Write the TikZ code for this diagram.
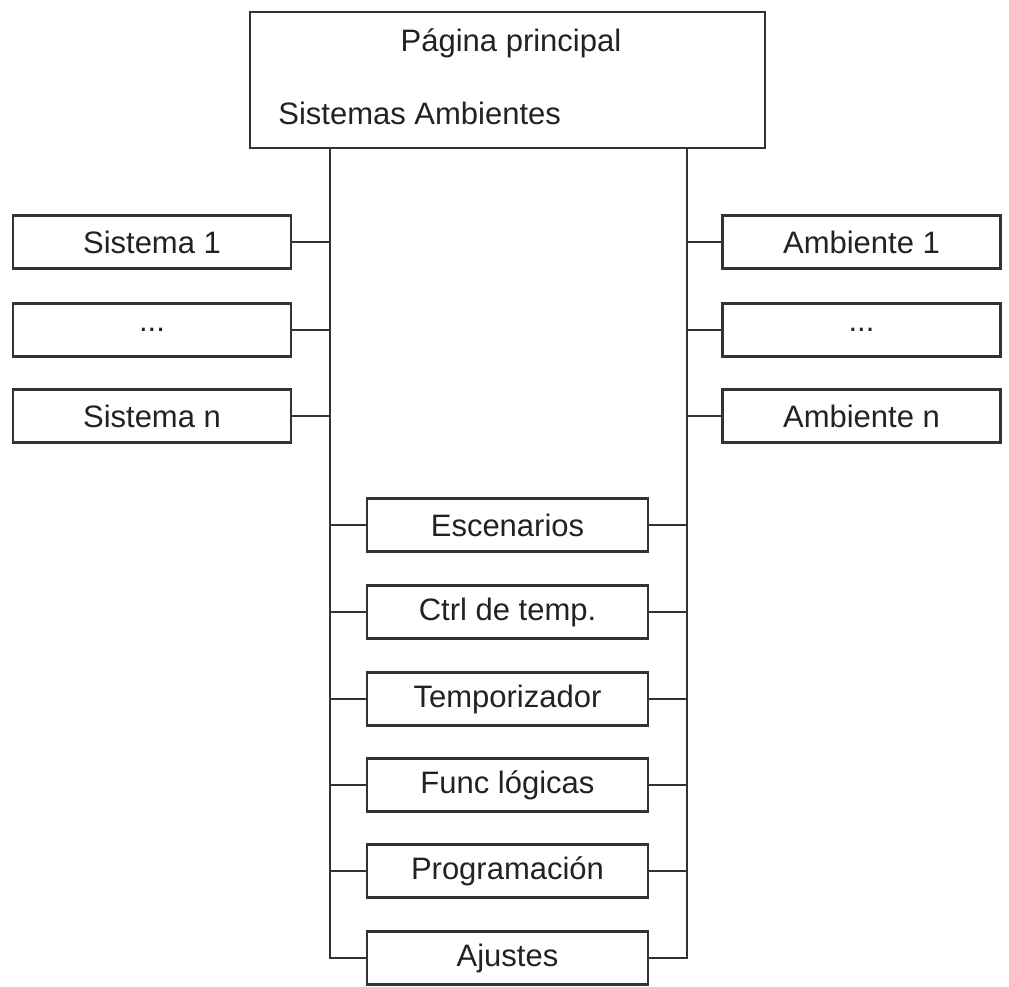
\documentclass[tikz,border=0pt]{standalone}
\usepackage{fontspec}
\setmainfont{Liberation Sans}
\usepackage{xcolor}
\usepackage{tikz}
\usetikzlibrary{positioning,calc}
\definecolor{linegray}{HTML}{333333}
\definecolor{textgray}{HTML}{222222}

\begin{document}
\begin{tikzpicture}[x=0.5pt,y=-0.5pt,
    link/.style={draw=linegray,line width=1.1pt},
    box/.style={shape=rectangle,draw=linegray,line width=1.1pt,inner sep=0pt,minimum height=26.5pt,text=textgray,font=\fontsize{15.5}{18}\selectfont},
    sidebox/.style={box,minimum width=139pt},
    midbox/.style={box,minimum width=140.5pt},
    txt/.style={inner sep=0pt,text=textgray,font=\fontsize{15.5}{18}\selectfont}]
    \useasboundingbox (0,0) rectangle (1009,987);
    \node[box,minimum width=257.5pt,minimum height=68pt] (P) at (507.5,80) {};
    \node[txt] (PP) at (511,43) {Página principal};
    \node[txt,anchor=west] (SA) at (278,113) {Sistemas Ambientes};
    \coordinate (L) at (330,148);
    \coordinate (R) at (687,148);
    \node[sidebox] (S1) at (152,242) {Sistema 1};
    \node[sidebox] (SD) at (152,330) {...};
    \node[sidebox] (SN) at (152,416) {Sistema n};
    \node[sidebox] (A1) at (861.5,242) {Ambiente 1};
    \node[sidebox] (AD) at (861.5,330) {...};
    \node[sidebox] (AN) at (861.5,416) {Ambiente n};
    \node[midbox] (ES) at (507.5,525) {Escenarios};
    \node[midbox] (CT) at (507.5,612) {Ctrl de temp.};
    \node[midbox] (TE) at (507.5,699) {Temporizador};
    \node[midbox] (FL) at (507.5,785) {Func lógicas};
    \node[midbox] (PR) at (507.5,871) {Programación};
    \node[midbox] (AJ) at (507.5,958) {Ajustes};
    %buses
    \draw[link] (L) |- (AJ);
    \draw[link] (R) |- (AJ);
    \path [-,link](S1) edge (S1 -| L);
    \path [-,link](SD) edge (SD -| L);
    \path [-,link](SN) edge (SN -| L);
    \path [-,link](A1) edge (A1 -| R);
    \path [-,link](AD) edge (AD -| R);
    \path [-,link](AN) edge (AN -| R);
    \path [-,link](ES) edge (ES -| L);
    \path [-,link](CT) edge (CT -| L);
    \path [-,link](TE) edge (TE -| L);
    \path [-,link](FL) edge (FL -| L);
    \path [-,link](PR) edge (PR -| L);
    \path [-,link](ES) edge (ES -| R);
    \path [-,link](CT) edge (CT -| R);
    \path [-,link](TE) edge (TE -| R);
    \path [-,link](FL) edge (FL -| R);
    \path [-,link](PR) edge (PR -| R);
\end{tikzpicture}
\end{document}
